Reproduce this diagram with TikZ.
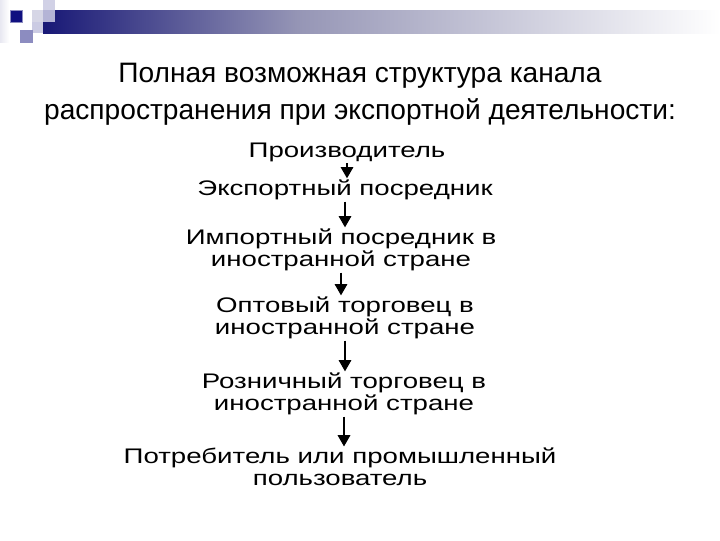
\documentclass[tikz,border=0pt]{standalone}
\usepackage{fontspec}
\setmainfont{Liberation Sans}
\newfontfamily\flowfont[FakeStretch=1.31]{Liberation Sans}
\usetikzlibrary{arrows.meta}
\definecolor{barnavy}{RGB}{24,24,118}
\definecolor{barmid}{RGB}{150,150,182}
\definecolor{sqdark}{RGB}{16,16,128}
\definecolor{sqgray}{RGB}{140,140,192}
\definecolor{sqlight}{RGB}{214,214,230}

\begin{document}
\begin{tikzpicture}[x=0.025cm,y=-0.025cm,
  stage/.style={align=center,inner sep=1pt,font=\flowfont\fontsize{15}{15.6}\selectfont},
  arr/.style={-{Triangle[length=8pt,width=9pt]},line width=0.8pt}]
\useasboundingbox (0,0) rectangle (720,540);
% corner squares and bar
\shade[left color=white!90!barnavy,right color=white] (0,0) rectangle (9,42);
\shade[left color=barnavy,right color=barmid] (43,10) rectangle (300,33);
\shade[left color=barmid,right color=white] (300,10) rectangle (720,33);
\fill[sqlight] (32,10) rectangle (43,22);
\fill[white!55!sqgray] (32,22) rectangle (43,33);
\fill[white!60!sqgray] (43,0) rectangle (55,10);
\fill[white!35!sqgray] (43,10) rectangle (55,22);
\fill[sqdark,draw=sqgray,line width=0.6pt] (10,10) rectangle (22,22);
\fill[sqgray] (20,30) rectangle (33,43);
% title
\node (title) at (360,94) [align=center,font=\fontsize{20}{26}\selectfont]
  {Полная возможная структура канала\\распространения при экспортной деятельности:};
% chain
\node[stage] (prod) at (347,152) {Производитель};
\node[stage] (exp) at (345,190) {Экспортный посредник};
\node[stage] (imp) at (341,250) {Импортный посредник в\\иностранной стране};
\node[stage] (opt) at (345,318) {Оптовый торговец в\\иностранной стране};
\node[stage] (rozn) at (344,394) {Розничный торговец в\\иностранной стране};
\node[stage] (potr) at (340,467) {Потребитель или промышленный\\пользователь};
\draw[arr] (prod.south) -- (prod.south |- exp.north);
\draw[arr] (exp.south) -- (exp.south |- imp.north);
\draw[arr] (imp.south) -- (imp.south |- opt.north);
\draw[arr] (opt.south) -- (opt.south |- rozn.north);
\draw[arr] (rozn.south) -- (rozn.south |- potr.north);
\end{tikzpicture}
\end{document}
